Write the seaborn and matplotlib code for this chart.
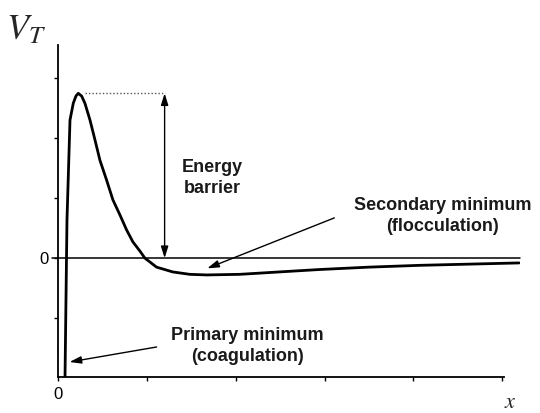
import matplotlib
matplotlib.use("Agg")
import matplotlib.pyplot as plt
import seaborn as sns
import pandas as pd

# Total interaction energy V_T versus separation x (schematic DLVO curve)
sep_x = [0.079, 0.101, 0.135, 0.172, 0.202, 0.228, 0.266, 0.303, 0.36, 0.416,
         0.472, 0.547, 0.618, 0.697, 0.772, 0.843, 0.921, 0.978, 1.109, 1.292,
         1.483, 1.674, 2.045, 2.49, 2.94, 3.5, 4.07, 4.63, 5.19]
energy_vt = [-1.98, 0.63, 2.30, 2.58, 2.70, 2.745, 2.70, 2.58, 2.30, 1.97,
             1.63, 1.30, 0.97, 0.72, 0.47, 0.27, 0.12, 0.0, -0.15, -0.23,
             -0.27, -0.28, -0.27, -0.23, -0.19, -0.15, -0.12, -0.10, -0.08]
x_ticks = [0, 1, 2, 3, 4, 5]
x_tick_labels = ["0", "", "", "", "", ""]
y_ticks = [-1, 0, 1, 2, 3]
y_tick_labels = ["", "0", "", "", ""]

barrier_top = 2.745
barrier_x = 1.2

df = pd.DataFrame({"x": sep_x, "V": energy_vt})

sns.set_style("ticks")
plt.rcParams["font.family"] = ["Liberation Sans", "DejaVu Sans"]
plt.rcParams["mathtext.fontset"] = "stix"

fig = plt.figure(figsize=(5.4, 4.13), dpi=100)
ax = fig.add_axes([58 / 540, 36 / 413, (520 - 58) / 540, (377 - 45) / 413])

sns.lineplot(data=df, x="x", y="V", ax=ax, color="black", linewidth=2.0,
             sort=False, estimator=None)

ax.set_xlim(0, 5.2)
ax.set_ylim(-1.98, 3.55)
ax.set_xticks(x_ticks)
ax.set_xticklabels(x_tick_labels)
ax.set_yticks(y_ticks)
ax.set_yticklabels(y_tick_labels)
ax.tick_params(axis="both", length=3, width=1, direction="out", labelsize=12,
               colors="black", pad=4)
ax.set_xlabel("")
ax.set_ylabel("")

for side in ["top", "right"]:
    ax.spines[side].set_visible(False)
for side in ["left", "bottom"]:
    ax.spines[side].set_linewidth(1.3)
    ax.spines[side].set_color("black")
ax.spines["bottom"].set_bounds(0, 5.02)

text_color = "#1a1a1a"
arrow_style = "-|>,head_length=0.7,head_width=0.22"

# zero line
ax.plot([-0.07, 5.2], [0, 0], color="black", linewidth=1.1, clip_on=False)

# energy barrier marker
ax.plot([0.3, barrier_x], [barrier_top, barrier_top], color="#555555",
        linewidth=1.0, linestyle=(0, (1, 1.5)))
ax.annotate("", xy=(barrier_x, barrier_top), xytext=(barrier_x, 0),
            arrowprops=dict(arrowstyle="<|-|>,head_length=0.7,head_width=0.22",
                            color="black", linewidth=1.0, shrinkA=0, shrinkB=0))
ax.text(1.74, 1.33, "Energy\nbarrier", ha="center", va="center",
        fontsize=13, fontweight="bold", linespacing=1.3, color=text_color)

# secondary minimum
ax.annotate("", xy=(1.68, -0.17), xytext=(3.11, 0.67),
            arrowprops=dict(arrowstyle=arrow_style, color="black",
                            linewidth=1.0, shrinkA=0, shrinkB=0))
ax.text(4.33, 0.70, "Secondary minimum\n(flocculation)", ha="center",
        va="center", fontsize=13, fontweight="bold", linespacing=1.3,
        color=text_color)

# primary minimum
ax.annotate("", xy=(0.13, -1.73), xytext=(1.11, -1.48),
            arrowprops=dict(arrowstyle=arrow_style, color="black",
                            linewidth=1.0, shrinkA=0, shrinkB=0))
ax.text(2.13, -1.47, "Primary minimum\n(coagulation)", ha="center",
        va="center", fontsize=13, fontweight="bold", linespacing=1.3,
        color=text_color)

# axis titles
fig.text(6 / 540, 1 - 30 / 413, r"$V_T$", fontsize=26, ha="left", va="center")
fig.text(510 / 540, 1 - 402 / 413, r"$x$", fontsize=16, ha="center",
         va="center")

fig.savefig("out.png", dpi=100)
